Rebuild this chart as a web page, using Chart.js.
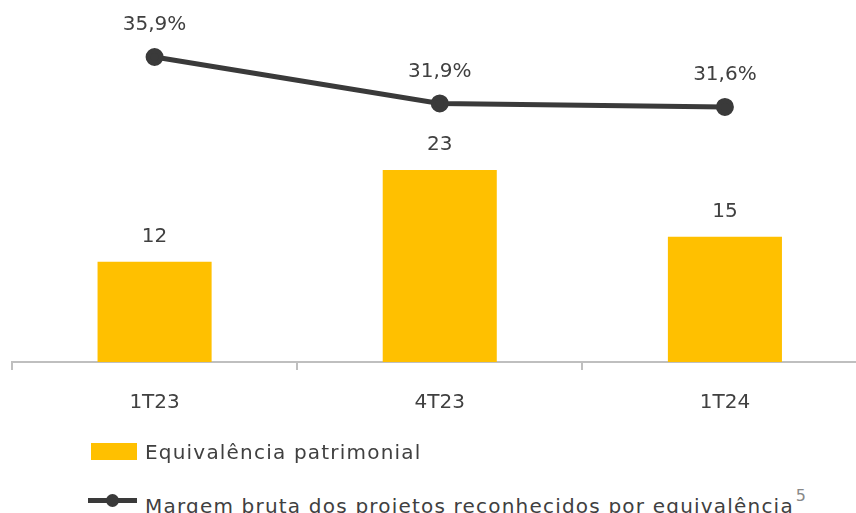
<!DOCTYPE html>
<html>
<head>
<meta charset="utf-8">
<script src="https://cdn.jsdelivr.net/npm/chart.js@4"></script>
<style>
  html, body { margin: 0; padding: 0; background: #fff; }
  #wrap { position: relative; width: 856px; height: 513px; overflow: hidden; font-family: "DejaVu Sans", sans-serif; color: #404040; }
  #chartBox { position: absolute; left: 0; top: 0; width: 879px; height: 446px; }
  .leg { position: absolute; left: 0; font-size: 20px; white-space: nowrap; }
  .leg .txt { position: absolute; left: 145px; top: 0; line-height: 24px; letter-spacing: 1.2px; }
  sup { font-size: 16px; color: #888; position: relative; top: -4px; margin-left: 2px; letter-spacing: 0; }
</style>
</head>
<body>
<div id="wrap">
  <div id="chartBox"><canvas id="c" width="879" height="446"></canvas></div>
  <div id="legend"></div>
</div>
<script>
// data
const categories = ['1T23', '4T23', '1T24'];
const equivalencia = [12, 23, 15];
const margem = [35.9, 31.9, 31.6];
const barLabel = 'Equivalência patrimonial';
const lineLabel = 'Margem bruta dos projetos reconhecidos por equivalência';
const footnote = '5';

const barColor = '#FFC000';
const lineColor = '#3a3a3a';
const textColor = '#404040';

const fmtPct = v => v.toFixed(1).replace('.', ',') + '%';

// value labels above bars and points
const valueLabels = {
    id: 'valueLabels',
    afterDatasetsDraw(chart) {
        const ctx = chart.ctx;
        ctx.save();
        ctx.font = '20px "DejaVu Sans"';
        ctx.fillStyle = textColor;
        ctx.textAlign = 'center';
        ctx.textBaseline = 'middle';
        chart.getDatasetMeta(1).data.forEach((bar, i) => {
            ctx.fillText(String(equivalencia[i]), bar.x, bar.y - 25);
        });
        chart.getDatasetMeta(0).data.forEach((pt, i) => {
            ctx.fillText(fmtPct(margem[i]), pt.x, pt.y - 32);
        });
        ctx.restore();
    }
};

const chart = new Chart(document.getElementById('c'), {
    data: {
        labels: categories,
        datasets: [{
            type: 'line',
            label: lineLabel,
            data: margem,
            yAxisID: 'y1',
            borderColor: lineColor,
            backgroundColor: lineColor,
            borderWidth: 5,
            pointRadius: 6.5,
            pointHoverRadius: 6.5,
            tension: 0,
            order: 0
        }, {
            type: 'bar',
            label: barLabel,
            data: equivalencia,
            yAxisID: 'y',
            backgroundColor: barColor,
            barPercentage: 0.4,
            categoryPercentage: 1,
            order: 1
        }]
    },
    options: {
        responsive: false,
        animation: false,
        events: [],
        layout: { padding: { left: 12, right: 0, top: 28, bottom: 10 } },
        plugins: {
            legend: { display: false },
            tooltip: { enabled: false }
        },
        scales: {
            x: {
                offset: true,
                border: { color: '#bfbfbf', width: 2 },
                grid: { offset: true, drawOnChartArea: false, drawTicks: true, tickLength: 8, color: '#bfbfbf', lineWidth: 2 },
                ticks: { color: textColor, font: { family: 'DejaVu Sans', size: 20 }, padding: 21 }
            },
            y: { display: false, min: 0, max: 40 },
            y1: { display: false, min: 9.61, max: 38.4 }
        }
    },
    plugins: [valueLabels]
});

// html legend built from the datasets
const legend = document.getElementById('legend');
legend.innerHTML =
    '<div class="leg" style="top:440px;width:856px;height:24px">' +
      '<span style="position:absolute;left:91px;top:3px;width:46px;height:17px;background:' + barColor + '"></span>' +
      '<span class="txt">' + barLabel + '</span></div>' +
    '<div class="leg" style="top:488px;width:856px;height:24px">' +
      '<span style="position:absolute;left:88px;top:10px;width:49px;height:5px;background:' + lineColor + '"></span>' +
      '<span style="position:absolute;left:106px;top:6px;width:13px;height:13px;border-radius:50%;background:' + lineColor + '"></span>' +
      '<span class="txt">' + lineLabel + '<sup>' + footnote + '</sup></span></div>';
</script>
</body>
</html>
